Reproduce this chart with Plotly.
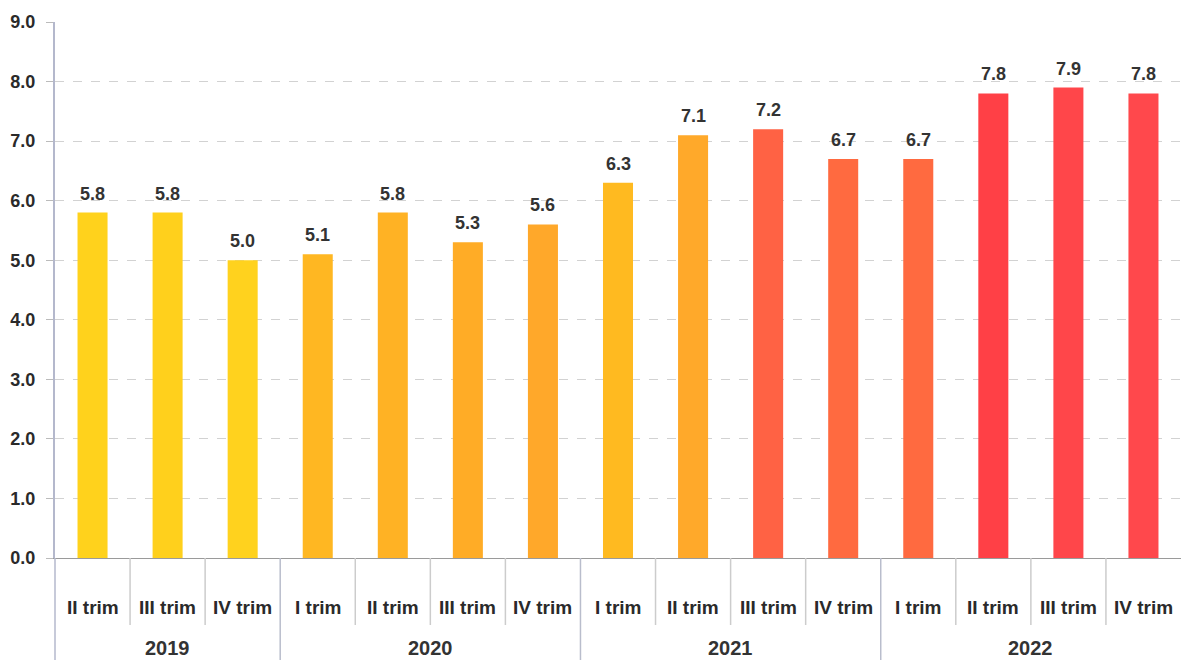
import plotly.graph_objects as go

# Quarterly values, grouped by year
years = ["2019"] * 3 + ["2020"] * 4 + ["2021"] * 4 + ["2022"] * 4
quarters = ["II trim", "III trim", "IV trim",
            "I trim", "II trim", "III trim", "IV trim",
            "I trim", "II trim", "III trim", "IV trim",
            "I trim", "II trim", "III trim", "IV trim"]
values = [5.8, 5.8, 5.0,
          5.1, 5.8, 5.3, 5.6,
          6.3, 7.1, 7.2, 6.7,
          6.7, 7.8, 7.9, 7.8]
bar_colors = ["#FFD21C", "#FFD01C", "#FFD21E",
              "#FFB722", "#FFB224", "#FFAC26", "#FFA82A",
              "#FFBA20", "#FFA92A", "#FF6244", "#FF6A40",
              "#FF6A40", "#FF4046", "#FF464A", "#FF484C"]
y_ticks = [0, 1, 2, 3, 4, 5, 6, 7, 8, 9]

FONT = "Liberation Sans, Arial, sans-serif"
TEXT = "#2a2a2a"

idx = list(range(len(values)))

fig = go.Figure(
    go.Bar(
        x=idx,
        y=values,
        width=0.4,
        marker=dict(color=bar_colors, line=dict(width=0)),
        hoverinfo="y",
    )
)

annotations = []
shapes = []

# value labels above each bar
for i, v in zip(idx, values):
    annotations.append(dict(
        x=i, y=v, xref="x", yref="y", text=f"<b>{v:.1f}</b>",
        showarrow=False, yanchor="bottom", yshift=7,
        font=dict(family=FONT, size=18, color="#333333"),
    ))

# quarter labels under the axis
for i, q in zip(idx, quarters):
    annotations.append(dict(
        x=i, y=-0.093, xref="x", yref="paper", text=f"<b>{q}</b>",
        showarrow=False, yanchor="middle",
        font=dict(family=FONT, size=19, color=TEXT),
    ))

# year group labels and boundaries
groups = []
for i, y in zip(idx, years):
    if groups and groups[-1][0] == y:
        groups[-1][2] = i
    else:
        groups.append([y, i, i])

for name, start, end in groups:
    annotations.append(dict(
        x=(start + end) / 2, y=-0.168, xref="x", yref="paper", text=f"<b>{name}</b>",
        showarrow=False, yanchor="middle",
        font=dict(family=FONT, size=20, color="#333333"),
    ))

group_starts = {start for _, start, _ in groups}
for i in idx[1:]:
    is_group = i in group_starts
    shapes.append(dict(
        type="line", xref="x", yref="paper",
        x0=i - 0.5, x1=i - 0.5, y0=0, y1=-0.2 if is_group else -0.125,
        line=dict(color="#b9bdcc" if is_group else "#cccccc", width=1.5),
    ))
# left axis extends down through the label area
shapes.append(dict(
    type="line", xref="paper", yref="paper", x0=0, x1=0, y0=0, y1=-0.2,
    line=dict(color="#b4b8cc", width=1.5),
))

fig.update_layout(
    width=1181,
    height=660,
    margin=dict(l=55, r=0, t=22, b=102),
    plot_bgcolor="white",
    paper_bgcolor="white",
    showlegend=False,
    font=dict(family=FONT, size=15, color=TEXT),
    annotations=annotations,
    shapes=shapes,
)

fig.update_xaxes(
    range=[-0.5, len(values) - 0.5],
    showticklabels=False,
    showgrid=False,
    zeroline=False,
    showline=True,
    linecolor="#9a9a9a",
    linewidth=1,
)

fig.update_yaxes(
    range=[0, 9],
    tickvals=y_ticks,
    ticktext=[f"<b>{t:.1f}</b>" for t in y_ticks],
    showgrid=True,
    gridcolor="#d2d2d2",
    griddash="dash",
    gridwidth=1,
    zeroline=False,
    showline=True,
    linecolor="#b4b8cc",
    linewidth=2,
    ticks="outside",
    ticklen=7,
    tickcolor="#bbbbbb",
    ticklabelstandoff=7,
    tickfont=dict(family=FONT, size=18, color=TEXT),
)

fig.write_html("out.html")
